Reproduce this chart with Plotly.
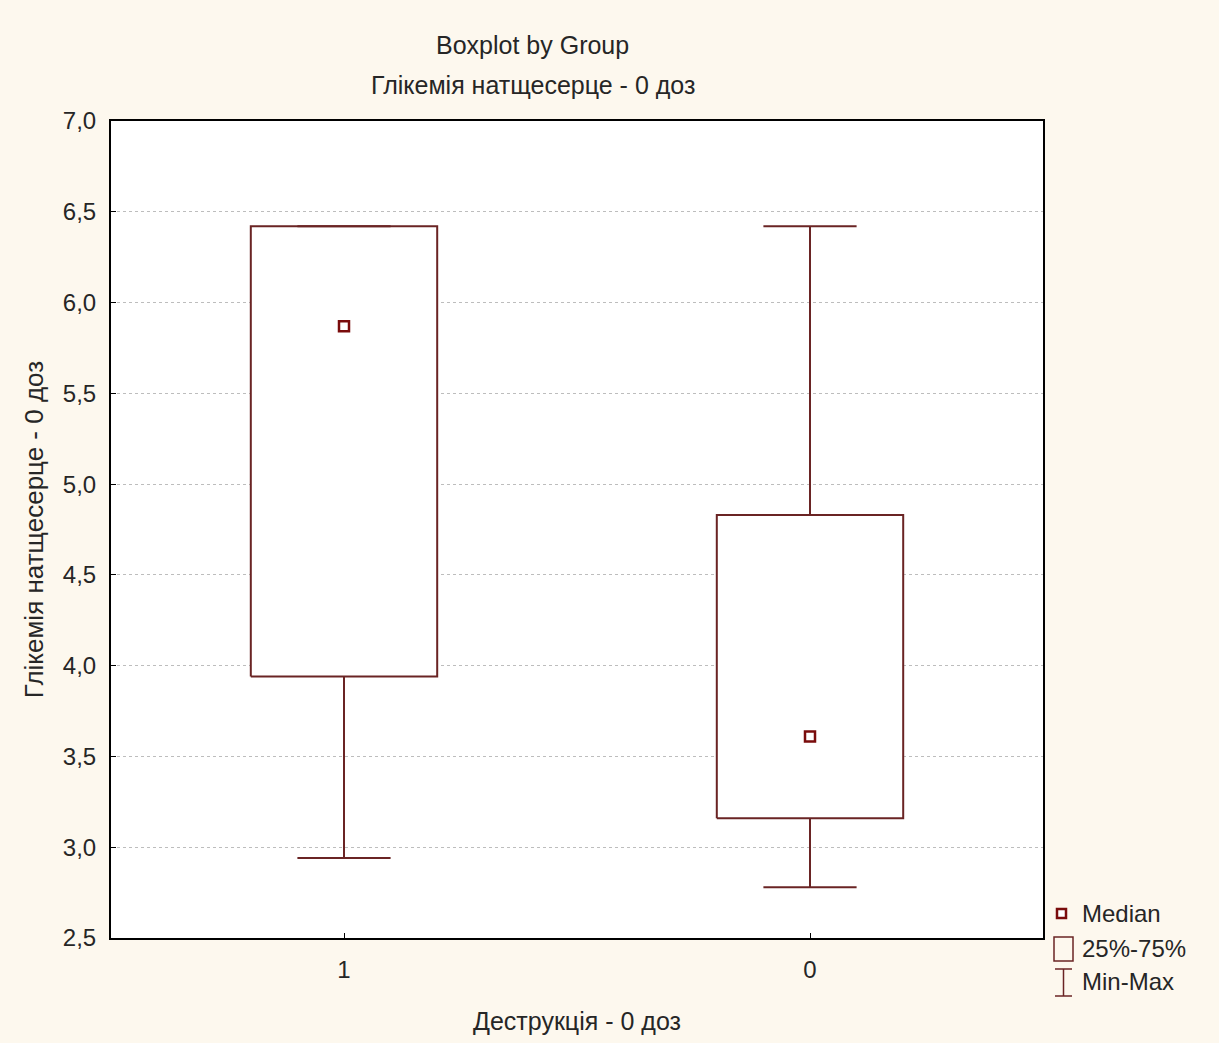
import plotly.graph_objects as go

# Group statistics: Глікемія натщесерце - 0 доз by Деструкція - 0 доз
groups = ["1", "0"]
positions = [1, 2]
q1 = [3.94, 3.16]
q3 = [6.42, 4.83]
median = [5.87, 3.61]
vmin = [2.94, 2.78]
vmax = [6.42, 6.42]

W, H = 1219, 1043
L, R, T, B = 111, 1043, 121, 938  # plot area in pixels

BOX_HALF = 0.2
CAP_HALF = 0.1
LINE_COLOR = "#6a2424"
MED_COLOR = "#7a0c0c"
FONT = "Liberation Sans, Arial, sans-serif"
TEXT_COLOR = "#262626"


def px(xp):
    return (xp - L) / (R - L)


def py(yp):
    return (B - yp) / (B - T)


fig = go.Figure()

# 25%-75% boxes
bx, by = [], []
for p, a, b in zip(positions, q1, q3):
    bx += [p - BOX_HALF, p + BOX_HALF, p + BOX_HALF, p - BOX_HALF, p - BOX_HALF, None]
    by += [a, a, b, b, a, None]
fig.add_trace(go.Scatter(x=bx, y=by, mode="lines", fill="toself", fillcolor="white",
                         line=dict(color=LINE_COLOR, width=2), hoverinfo="skip",
                         showlegend=False))

# Min-Max whiskers with caps
wx, wy = [], []
for p, a, b, lo, hi in zip(positions, q1, q3, vmin, vmax):
    wx += [p, p, None, p - CAP_HALF, p + CAP_HALF, None]
    wy += [a, lo, None, lo, lo, None]
    wx += [p, p, None, p - CAP_HALF, p + CAP_HALF, None]
    wy += [b, hi, None, hi, hi, None]
fig.add_trace(go.Scatter(x=wx, y=wy, mode="lines", line=dict(color=LINE_COLOR, width=2),
                         hoverinfo="skip", showlegend=False))

# Medians
fig.add_trace(go.Scatter(x=positions, y=median, mode="markers",
                         marker=dict(symbol="square-open", size=10, color=MED_COLOR,
                                     line=dict(color=MED_COLOR, width=2.5)),
                         showlegend=False))

# Legend drawn by hand
shapes = [
    dict(type="rect", xref="paper", yref="paper",
         x0=px(1057), x1=px(1066), y0=py(918), y1=py(909),
         line=dict(color=MED_COLOR, width=2.5), fillcolor="white"),
    dict(type="rect", xref="paper", yref="paper",
         x0=px(1054), x1=px(1073), y0=py(961), y1=py(937),
         line=dict(color=LINE_COLOR, width=1.5), fillcolor="rgba(0,0,0,0)"),
    dict(type="line", xref="paper", yref="paper",
         x0=px(1055), x1=px(1072), y0=py(969), y1=py(969),
         line=dict(color=LINE_COLOR, width=1.5)),
    dict(type="line", xref="paper", yref="paper",
         x0=px(1063.5), x1=px(1063.5), y0=py(969), y1=py(996),
         line=dict(color=LINE_COLOR, width=1.5)),
    dict(type="line", xref="paper", yref="paper",
         x0=px(1055), x1=px(1072), y0=py(996), y1=py(996),
         line=dict(color=LINE_COLOR, width=1.5)),
]
legend_items = [("Median", 913), ("25%-75%", 948), ("Min-Max", 981)]
annotations = [
    dict(text=t, xref="paper", yref="paper", x=px(1080), y=py(yc), xanchor="left",
         yanchor="middle", showarrow=False, font=dict(size=24, family=FONT, color=TEXT_COLOR))
    for t, yc in legend_items
]
annotations += [
    dict(text="Boxplot by Group", xref="paper", yref="paper", x=px(532), y=py(45),
         xanchor="center", yanchor="middle", showarrow=False,
         font=dict(size=25, family=FONT, color=TEXT_COLOR)),
    dict(text="Глікемія натщесерце - 0 доз", xref="paper", yref="paper", x=px(533), y=py(85),
         xanchor="center", yanchor="middle", showarrow=False,
         font=dict(size=25, family=FONT, color=TEXT_COLOR)),
]

fig.update_layout(
    width=W, height=H,
    margin=dict(l=L, r=W - R, t=T, b=H - B, pad=0),
    paper_bgcolor="#fdf8ee",
    plot_bgcolor="white",
    separators=", ",
    font=dict(family=FONT, size=24, color=TEXT_COLOR),
    shapes=shapes,
    annotations=annotations,
    showlegend=False,
)

fig.update_xaxes(
    range=[0.5, 2.5], tickvals=positions, ticktext=groups,
    ticks="inside", ticklen=5, tickcolor="black", ticklabelstandoff=9,
    showgrid=False, zeroline=False,
    showline=True, linecolor="black", linewidth=2, mirror=True,
    title=dict(text="Деструкція - 0 доз", standoff=31, font=dict(size=25)),
)
fig.update_yaxes(
    range=[2.5, 7.0], dtick=0.5, tick0=2.5, tickformat=".1f",
    ticks="inside", ticklen=5, tickcolor="black", ticklabelstandoff=8,
    showgrid=True, gridcolor="#bdbdbd", griddash="dot", gridwidth=1,
    zeroline=False,
    showline=True, linecolor="black", linewidth=2, mirror=True,
    title=dict(text="Глікемія натщесерце - 0 доз", standoff=12, font=dict(size=26)),
)

fig.write_html("out.html")
